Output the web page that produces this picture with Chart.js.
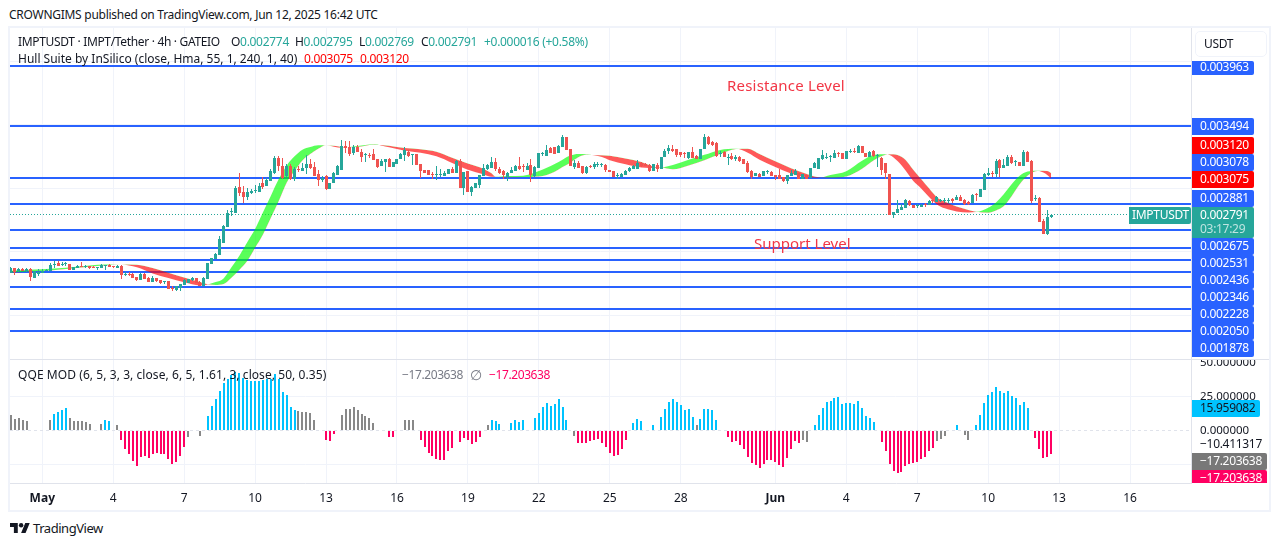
<!DOCTYPE html>
<html>
<head>
<meta charset="utf-8">
<title>IMPTUSDT</title>
<script src="https://cdn.jsdelivr.net/npm/chart.js"></script>
<style>
    html, body { margin: 0; padding: 0; background: #fff; overflow: hidden; }
    body { width: 1281px; height: 546px; position: relative; font-family: "Noto Sans", sans-serif; font-size: 12px; color: #131722; }
    canvas { position: absolute; left: 10px; }
    .txt { position: absolute; white-space: nowrap; line-height: 16px; }
    .rule { position: absolute; }
    .num { letter-spacing: -0.3px; }
    .up { color: #26a69a; }
    .hull { color: #ff0000; }
    .pink { color: #ff0062; }
    .grey { color: #787b86; }
</style>
</head>
<body>
<div class="rule" style="left:8px;top:26px;width:1263px;height:486px;border:2px solid #f0f3fa;box-sizing:border-box"></div>
<canvas id="priceChart" width="1259" height="331" style="top:28px"></canvas>
<canvas id="qqeChart" width="1259" height="151" style="top:360px"></canvas>
<div class="rule" style="left:10px;top:359px;width:1259px;height:1px;background:#e0e3eb"></div>

<div class="txt" style="left:9px;top:7px;letter-spacing:-0.27px">CROWNGIMS published on TradingView.com, Jun 12, 2025 16:42 UTC</div>
<div class="txt" style="left:18px;top:34px;letter-spacing:-0.33px">IMPTUSDT · IMPT/Tether · 4h · GATEIO</div>
<div class="txt num" style="left:231px;top:34px">O<span class="up">0.002774</span></div>
<div class="txt num" style="left:295px;top:34px">H<span class="up">0.002795</span></div>
<div class="txt num" style="left:359px;top:34px">L<span class="up">0.002769</span></div>
<div class="txt num" style="left:421px;top:34px">C<span class="up">0.002791</span></div>
<div class="txt num up" style="left:484px;top:34px">+0.000016 (+0.58%)</div>
<div class="txt" style="left:18px;top:51px">Hull Suite by InSilico (close, Hma, 55, 1, 240, 1, 40)</div>
<div class="txt hull num" style="left:304px;top:51px">0.003075</div>
<div class="txt hull num" style="left:360px;top:51px">0.003120</div>
<div class="txt" style="left:1195px;top:31px;width:72px;height:26px;border:1px solid #f0f3fa;border-radius:5px;box-sizing:border-box;line-height:24px;padding-left:8px;letter-spacing:-0.3px">USDT</div>
<div class="txt" style="left:727px;top:75px;font-size:15px;line-height:20px;letter-spacing:0.2px;color:#f23645">Resistance Level</div>
<div class="txt" style="left:754px;top:233px;font-size:15px;line-height:20px;color:#f23645">Support Level</div>
<div class="txt" style="left:18px;top:367px;letter-spacing:0.07px">QQE MOD (6, 5, 3, 3, close, 6, 5, 1.61, 3, close, 50, 0.35)</div>
<div class="txt grey" style="left:402px;top:367px;letter-spacing:-0.4px">−17.203638</div>
<div class="txt grey" style="left:470px;top:367px;font-size:14px">∅</div>
<div class="txt pink" style="left:489px;top:367px;letter-spacing:-0.4px">−17.203638</div>
<svg style="position:absolute;left:10px;top:523px" width="20" height="10" viewBox="0 4 36 18"><path d="M14 22H7V11H0V4h14v18zM28 22h-8l7.5-18h8L28 22z" fill="#131722"/><circle cx="20" cy="8" r="4" fill="#131722"/></svg>
<div class="txt" style="left:33px;top:520px;font-size:13px;letter-spacing:-0.45px">TradingView</div>

<script>
// prices are in millionths of USDT, one entry per 4h bar
const opens = [
    2337, 2371, 2350, 2366, 2347, 2368, 2298, 2324, 2331, 2352,
    2352, 2400, 2413, 2400, 2402, 2405, 2358, 2376, 2389, 2384,
    2389, 2381, 2373, 2376, 2392, 2400, 2389, 2376, 2392, 2321,
    2326, 2329, 2303, 2282, 2329, 2298, 2266, 2292, 2276, 2263,
    2268, 2216, 2200, 2216, 2237, 2253, 2276, 2292, 2266, 2234,
    2287, 2405, 2442, 2478, 2573, 2699, 2811, 2806, 3008, 2969,
    2929, 2966, 2982, 2971, 3040, 3019, 3061, 3118, 3239, 3176,
    3097, 3176, 3076, 3150, 3134, 3158, 3192, 3168, 3113, 3066,
    3097, 2995, 3045, 3105, 3145, 3333, 3323, 3276, 3323, 3289,
    3260, 3263, 3270, 3228, 3176, 3210, 3234, 3165, 3192, 3228,
    3265, 3286, 3263, 3268, 3189, 3145, 3145, 3110, 3108, 3108,
    3097, 3113, 3152, 3118, 3218, 3000, 3134, 2971, 3003, 3026,
    3097, 3150, 3158, 3210, 3155, 3139, 3092, 3118, 3139, 3176,
    3173, 3142, 3184, 3097, 3163, 3270, 3257, 3318, 3323, 3276,
    3328, 3402, 3310, 3165, 3202, 3176, 3118, 3176, 3165, 3181,
    3181, 3181, 3145, 3134, 3100, 3092, 3108, 3139, 3150, 3152,
    3202, 3194, 3181, 3139, 3186, 3155, 3250, 3297, 3310, 3310,
    3284, 3281, 3236, 3289, 3257, 3231, 3310, 3402, 3362, 3360,
    3273, 3284, 3242, 3255, 3234, 3247, 3228, 3200, 3139, 3097,
    3116, 3100, 3126, 3131, 3105, 3102, 3087, 3055, 3100, 3102,
    3118, 3076, 3105, 3079, 3158, 3150, 3231, 3242, 3250, 3242,
    3276, 3276, 3228, 3284, 3297, 3276, 3333, 3278, 3250, 3291,
    3252, 3242, 3197, 3113, 2788, 2809, 2833, 2848, 2900, 2866,
    2858, 2851, 2874, 2866, 2903, 2895, 2903, 2900, 2903, 2914,
    2908, 2935, 2908, 2890, 2882, 2950, 2932, 2987, 3108, 3118,
    3113, 3223, 3160, 3176, 3244, 3208, 3205, 3176, 3284, 3215,
    2914, 2924, 2743, 2638, 2774
];
const highs = [
    2379, 2373, 2376, 2371, 2373, 2371, 2347, 2366, 2366, 2363,
    2410, 2431, 2431, 2418, 2421, 2408, 2384, 2397, 2421, 2397,
    2392, 2386, 2379, 2402, 2397, 2405, 2392, 2400, 2395, 2342,
    2342, 2337, 2305, 2331, 2331, 2300, 2310, 2295, 2279, 2271,
    2271, 2232, 2232, 2248, 2289, 2287, 2305, 2295, 2268, 2305,
    2413, 2452, 2491, 2623, 2712, 2830, 2843, 3019, 3118, 3019,
    3003, 2992, 3024, 3040, 3087, 3079, 3150, 3255, 3255, 3242,
    3189, 3189, 3171, 3176, 3202, 3262, 3228, 3210, 3145, 3097,
    3102, 3045, 3131, 3184, 3381, 3375, 3373, 3339, 3341, 3310,
    3276, 3276, 3307, 3231, 3228, 3228, 3236, 3205, 3234, 3281,
    3323, 3302, 3270, 3273, 3192, 3147, 3147, 3126, 3176, 3150,
    3139, 3155, 3171, 3223, 3231, 3131, 3139, 3016, 3040, 3108,
    3189, 3192, 3247, 3236, 3165, 3142, 3126, 3165, 3184, 3250,
    3192, 3197, 3231, 3173, 3276, 3289, 3341, 3323, 3325, 3344,
    3423, 3404, 3312, 3223, 3218, 3178, 3178, 3184, 3205, 3208,
    3197, 3192, 3147, 3136, 3118, 3118, 3142, 3171, 3181, 3223,
    3210, 3197, 3192, 3189, 3197, 3250, 3307, 3339, 3341, 3312,
    3289, 3284, 3284, 3328, 3260, 3310, 3425, 3415, 3375, 3362,
    3294, 3297, 3270, 3276, 3265, 3257, 3231, 3213, 3142, 3118,
    3118, 3134, 3147, 3134, 3108, 3150, 3089, 3105, 3145, 3155,
    3121, 3113, 3108, 3158, 3210, 3242, 3302, 3276, 3265, 3302,
    3284, 3278, 3297, 3307, 3315, 3341, 3336, 3281, 3297, 3302,
    3268, 3244, 3200, 3116, 2817, 2908, 2877, 2916, 2911, 2869,
    2877, 2877, 2882, 2908, 2908, 2942, 2919, 2921, 2921, 2927,
    2945, 2945, 2916, 2900, 2953, 2961, 2998, 3124, 3158, 3134,
    3231, 3231, 3234, 3260, 3260, 3223, 3208, 3302, 3297, 3223,
    2950, 2929, 2756, 2830, 2795
];
const lows = [
    2331, 2316, 2345, 2347, 2345, 2271, 2298, 2310, 2331, 2350,
    2352, 2373, 2392, 2389, 2392, 2360, 2355, 2376, 2381, 2376,
    2366, 2373, 2358, 2376, 2358, 2384, 2373, 2376, 2287, 2310,
    2310, 2298, 2269, 2279, 2289, 2266, 2266, 2261, 2250, 2245,
    2211, 2195, 2195, 2192, 2237, 2253, 2268, 2258, 2234, 2234,
    2287, 2405, 2442, 2478, 2573, 2693, 2783, 2806, 2940, 2887,
    2908, 2956, 2966, 2971, 2998, 3019, 3061, 3110, 3139, 3071,
    3087, 3066, 3061, 3129, 3134, 3113, 3155, 3097, 3021, 3053,
    2987, 2995, 3045, 3105, 3145, 3281, 3257, 3262, 3284, 3205,
    3205, 3242, 3223, 3163, 3176, 3129, 3165, 3165, 3192, 3228,
    3218, 3244, 3181, 3184, 3079, 3123, 3102, 3076, 3066, 3087,
    3097, 3113, 3118, 3118, 3003, 2950, 2971, 2940, 3003, 3000,
    3097, 3145, 3158, 3139, 3113, 3076, 3061, 3118, 3139, 3145,
    3131, 3142, 3050, 3092, 3163, 3255, 3257, 3281, 3270, 3276,
    3328, 3302, 3176, 3155, 3160, 3113, 3110, 3158, 3155, 3165,
    3165, 3131, 3126, 3087, 3071, 3092, 3108, 3131, 3150, 3152,
    3171, 3176, 3131, 3139, 3126, 3155, 3250, 3270, 3284, 3244,
    3244, 3236, 3231, 3242, 3231, 3231, 3310, 3341, 3333, 3244,
    3244, 3244, 3187, 3223, 3218, 3205, 3192, 3124, 3076, 3097,
    3089, 3100, 3110, 3097, 3066, 3076, 3050, 3034, 3095, 3102,
    3076, 3076, 3076, 3079, 3158, 3150, 3223, 3231, 3210, 3242,
    3244, 3228, 3228, 3276, 3276, 3276, 3276, 3244, 3250, 3244,
    3171, 3102, 3071, 2790, 2767, 2806, 2833, 2848, 2858, 2848,
    2843, 2851, 2856, 2866, 2887, 2895, 2895, 2885, 2882, 2887,
    2908, 2903, 2872, 2866, 2882, 2900, 2932, 2987, 3100, 3087,
    3087, 3087, 3160, 3176, 3192, 3176, 3173, 3176, 3210, 2887,
    2898, 2735, 2638, 2633, 2769
];
const closes = [
    2373, 2345, 2366, 2350, 2363, 2303, 2347, 2339, 2352, 2358,
    2400, 2405, 2392, 2405, 2408, 2360, 2381, 2392, 2381, 2389,
    2373, 2376, 2376, 2400, 2395, 2384, 2381, 2392, 2318, 2326,
    2321, 2298, 2279, 2329, 2289, 2266, 2298, 2271, 2255, 2268,
    2211, 2211, 2232, 2248, 2279, 2284, 2292, 2258, 2234, 2295,
    2410, 2450, 2484, 2602, 2704, 2804, 2817, 3003, 2961, 2929,
    2969, 2982, 2990, 3019, 3011, 3066, 3139, 3239, 3176, 3084,
    3176, 3071, 3150, 3145, 3160, 3192, 3160, 3097, 3066, 3082,
    2992, 3045, 3118, 3176, 3333, 3315, 3270, 3328, 3284, 3250,
    3265, 3257, 3223, 3171, 3218, 3228, 3171, 3205, 3234, 3270,
    3302, 3255, 3268, 3184, 3139, 3123, 3102, 3105, 3113, 3113,
    3118, 3150, 3118, 3218, 3005, 3129, 2971, 3013, 3040, 3105,
    3158, 3181, 3210, 3150, 3123, 3105, 3123, 3145, 3176, 3152,
    3168, 3176, 3105, 3171, 3276, 3276, 3302, 3281, 3270, 3333,
    3402, 3302, 3176, 3197, 3160, 3123, 3165, 3168, 3189, 3186,
    3186, 3145, 3126, 3087, 3105, 3116, 3139, 3163, 3178, 3197,
    3178, 3176, 3139, 3189, 3155, 3250, 3297, 3315, 3297, 3262,
    3262, 3270, 3284, 3242, 3231, 3310, 3402, 3349, 3341, 3257,
    3278, 3244, 3247, 3234, 3250, 3215, 3192, 3129, 3092, 3118,
    3089, 3134, 3131, 3097, 3087, 3076, 3055, 3105, 3118, 3139,
    3076, 3113, 3076, 3158, 3197, 3242, 3262, 3250, 3257, 3276,
    3270, 3228, 3297, 3297, 3284, 3333, 3276, 3250, 3289, 3257,
    3257, 3145, 3118, 2790, 2814, 2835, 2853, 2908, 2866, 2848,
    2864, 2872, 2869, 2900, 2898, 2932, 2908, 2911, 2908, 2900,
    2932, 2903, 2879, 2877, 2948, 2945, 2995, 3113, 3118, 3110,
    3215, 3160, 3181, 3244, 3200, 3213, 3173, 3284, 3210, 2903,
    2919, 2735, 2644, 2772, 2791
];

// Hull Suite band, sampled along the bars
const hullBars = [0, 4, 8, 12, 16, 20, 24, 28, 32, 36, 40, 44, 48, 50, 52, 54, 56, 58, 60, 62, 64, 66, 68, 70, 72, 74, 76, 78, 80, 82, 84, 85, 88, 92, 96, 100, 104, 108, 112, 116, 120, 122, 123, 126, 130, 134, 136, 138, 140, 142, 144, 146, 150, 152, 156, 160, 164, 165, 168, 172, 176, 180, 184, 187, 190, 194, 198, 202, 205, 208, 212, 216, 219, 222, 223, 225, 227, 229, 231, 233, 235, 237, 240, 243, 245, 248, 250, 252, 254, 256, 258, 260, 261, 263, 264];
const hullFast = [2352, 2358, 2363, 2371, 2381, 2394, 2402, 2402, 2379, 2331, 2295, 2261, 2236, 2244, 2263, 2292, 2379, 2471, 2576, 2680, 2812, 2943, 3074, 3179, 3252, 3305, 3326, 3340, 3340, 3328, 3320, 3322, 3333, 3347, 3323, 3297, 3280, 3252, 3200, 3147, 3110, 3091, 3090, 3097, 3100, 3137, 3163, 3192, 3226, 3258, 3270, 3268, 3247, 3222, 3190, 3165, 3160, 3162, 3184, 3225, 3264, 3303, 3312, 3281, 3226, 3168, 3118, 3087, 3084, 3106, 3135, 3218, 3263, 3268, 3263, 3215, 3142, 3058, 3000, 2932, 2874, 2843, 2819, 2811, 2814, 2848, 2890, 2956, 3035, 3100, 3132, 3139, 3136, 3105, 3075];
const hullSlow = [2337, 2345, 2350, 2360, 2371, 2384, 2394, 2401, 2399, 2373, 2337, 2298, 2264, 2246, 2240, 2247, 2297, 2358, 2428, 2533, 2638, 2769, 2900, 3045, 3137, 3220, 3270, 3311, 3340, 3336, 3326, 3323, 3326, 3344, 3336, 3317, 3308, 3289, 3242, 3195, 3153, 3119, 3092, 3087, 3090, 3094, 3105, 3131, 3168, 3202, 3245, 3265, 3260, 3256, 3235, 3208, 3165, 3164, 3150, 3180, 3221, 3270, 3310, 3312, 3271, 3213, 3158, 3113, 3087, 3084, 3094, 3155, 3222, 3265, 3268, 3263, 3226, 3147, 3074, 3001, 2930, 2896, 2857, 2830, 2817, 2809, 2827, 2861, 2940, 3032, 3099, 3134, 3139, 3137, 3120];

// horizontal support and resistance levels
const levels = [3963, 3494, 3078, 2881, 2675, 2531, 2436, 2346, 2228, 2050, 1878];
const lastClose = 2791;
const priceGrid = [2000, 2500, 3000, 3500, 4000];

// values printed in the tags on the price scale, top to bottom
const tagPrices = [3963, 3494, 3120, 3078, 3075, 2881, 2791, 2675, 2531, 2436, 2346, 2228, 2050, 1878];

// QQE MOD histogram, one entry per bar; tone c = cyan, g = grey, p = pink
const qqeValues = [
    11.3, 8.6, 9.1, 7.4, 6.9, null, null, null, null, null,
    7.6, 12.3, 13.7, 14.7, 16.4, 9.1, 6.6, 6.6, 6.6, 6.4,
    4.4, null, null, 4.4, 7.8, 6.6, null, 3.7, -7.4, -13.7,
    -17.6, -22.5, -26.2, -19.6, -18.6, -20.3, -17.2, -16.7, -17.2, -17.6,
    -20.8, -24.7, -23.3, -18.9, -12.3, -4.9, null, null, -4.2, null,
    10.5, 18.1, 23, 28.9, 35, 37.5, 40.4, 42.9, 42.1, 38.7,
    36.8, 36.3, 36.3, 36.3, 36.8, 38, 38, 41.7, 38, 28.2,
    25.7, 17.2, 15.2, 14, 13.5, 13.5, 13, 7.4, null, null,
    -7.4, -8.1, -2.9, null, 11.3, 15.4, 15.4, 17.2, 15.2, 11.8,
    10.5, 8.8, 5.4, null, null, null, -4.9, -4.9, null, null,
    7.6, 7.6, 7.6, null, -7.1, -12.3, -16.4, -19.1, -20.8, -21.8,
    -21.8, -15.2, -13, null, -8.6, -5.6, -7.4, -9.8, -8.8, -4.9,
    null, 3.9, 7.4, 6.9, 4.4, null, null, 5.4, 7.6, 6.4,
    7.6, null, null, 9.1, 12.7, 17.2, 20.1, 17.9, 19.4, 22.8,
    17.2, 7.8, null, -4.2, -9.3, -9.3, -9.1, -7.8, -7.4, -6.6,
    -9.3, -12.3, -16.4, -18.9, -17.9, -13.5, -7.1, null, 5.1, 8.3,
    6.6, null, null, 3.7, null, 9.8, 15.4, 20.8, 22.8, 20.8,
    18.4, 14.7, 15.4, 9.8, 3.9, 8.1, 15.4, 15.4, 14.7, 7.4,
    null, null, -4.9, -8.6, -7.8, -10.8, -13.7, -19.6, -23.8, -25.2,
    -27.4, -24.5, -21.6, -22, -23, -25.2, -27, -20.3, -13.7, -8.1,
    -9.3, -6.9, -8.3, null, 3.9, 11.3, 16.4, 20.8, 21.6, 23.8,
    24.5, 19.1, 20.1, 20.1, 19.1, 21.6, 16.4, 10.5, 9.1, 6.1,
    null, -8.6, -15.2, -24.5, -29.9, -31.4, -30.6, -26, -24.5, -23.8,
    -23.3, -20.8, -19.6, -15.2, -13, -7.8, -6.4, -4.2, null, null,
    3.9, null, -3.4, -7.1, null, 3.9, 11.3, 19.8, 25.7, 28.2,
    31.9, 28.9, 27.4, 28.9, 25, 23.8, 18.6, 20.8, 16.4, null,
    -5.6, -13.7, -20.3, -19.6, -17.203638
];
const qqeTones = (
    'ggggg.....gccccggggg' + 'g..gcc.gpp' + 'pppppppppp' + 'pppppg..g.' +
    'cccccccccc' + 'cccccccccc' + 'cccggggg..' + 'ppp.gggggg' + 'ggg...pp..' +
    'ggg.pppppp' + 'ppp.pppppp' + '.gccc..ccc' + 'c..ccccccc' + 'cc.gpppppp' +
    'ppppppp.cc' + 'c..c.ccccc' + 'ccccgccccc' + '..pppppppp' + 'pppppppppp' +
    'pgg.cccccc' + 'cccccccccc' + '.ppppppppp' + 'pppppggg..' + 'c.gg.ccccc' +
    'ccccccccc.' + 'ppppp'
);
const qqeTicks = [-25, 0, 25, 50];

// time axis
const dayBars = [8, 26, 44, 62, 80, 98, 116, 134, 152, 170, 194, 212, 230, 248, 266, 284];
const dayLabels = ['May', '4', '7', '10', '13', '16', '19', '22', '25', '28', 'Jun', '4', '7', '10', '13', '16'];

const UP = '#26a69a', DOWN = '#ef5350', BLUE = '#2962ff', RED = '#ff0000';
const GRID = '#f0f3fa', EDGE = '#e0e3eb';
const xMin = -0.196, xMax = 299.47;

Chart.defaults.font.family = '"Noto Sans", sans-serif';
Chart.defaults.font.size = 12;
Chart.defaults.color = '#131722';

const candleColors = closes.map((c, i) => (c >= opens[i] ? UP : DOWN));
const toneColors = { c: '#00c3ff', g: '#888888', p: '#ff0062' };

// keep the thin bars and the flat level lines on whole pixels so they stay sharp
const snapMarks = {
    id: 'snapMarks',
    afterDatasetsUpdate(chart) {
        chart.getSortedVisibleDatasetMetas().forEach(meta => {
            const ds = chart.data.datasets[meta.index];
            if (meta.type === 'line') {
                if (meta.data.length !== 2) return;
                meta.data.forEach(pt => {
                    pt.y = ds.borderWidth % 2 ? Math.floor(pt.y) + 0.5 : Math.round(pt.y);
                });
                return;
            }
            const odd = ds.barThickness % 2 === 1;
            meta.data.forEach(bar => {
                bar.x = odd ? Math.floor(bar.x) + 0.5 : Math.round(bar.x);
                const top = Math.round(Math.min(bar.y, bar.base));
                let bottom = Math.round(Math.max(bar.y, bar.base));
                if (bottom === top) bottom++;
                bar.y = top;
                bar.base = bottom;
            });
        });
    }
};

// coloured value tags over the right hand scale
function scaleTags(tags, plain) {
    return {
        id: 'scaleTags',
        afterDraw(chart) {
            const ctx = chart.ctx;
            ctx.save();
            ctx.beginPath();
            ctx.rect(0, 0, chart.width, chart.chartArea.bottom);
            ctx.clip();
            ctx.textBaseline = 'middle';
            ctx.font = '12px "Noto Sans", sans-serif';
            ctx.letterSpacing = '-0.3px';
            tags.forEach(t => {
                ctx.fillStyle = t.bg;
                ctx.beginPath();
                ctx.roundRect(t.left, t.top, t.width, t.height, [0, 2, 2, 0]);
                ctx.fill();
                t.lines.forEach((line, n) => {
                    ctx.fillStyle = line.color;
                    ctx.fillText(line.text, t.left + (t.inset || 8), t.top + 8.5 + n * 14 + (t.nudge || 0));
                });
            });
            plain.forEach(p => {
                ctx.fillStyle = p.color;
                ctx.fillText(p.text, p.left, p.y);
            });
            ctx.restore();
        }
    };
}

const priceText = v => (v / 1e6).toFixed(6);
const tagTops = [118, 137, 154, 171, 190, 207, 238, 255, 272, 289, 306, 323, 340];
const priceTags = tagPrices.map((p, n) => {
    if (n === 0) {
        return { bg: BLUE, left: 1182, width: 62, top: 33, height: 14, nudge: -2, lines: [{ text: priceText(p), color: '#fff' }] };
    }
    const hull = p === 3120 || p === 3075;
    const last = p === lastClose;
    const lines = [{ text: priceText(p), color: '#fff' }];
    if (last) lines.push({ text: '03:17:29', color: 'rgba(255,255,255,0.7)' });
    return {
        bg: last ? UP : hull ? RED : BLUE,
        left: 1182, width: 62, top: tagTops[n - 1] - 28, height: last ? 31 : 17, lines
    };
});
priceTags.push({ bg: UP, left: 1119, width: 62, top: 179, height: 17, inset: 3, lines: [{ text: 'IMPTUSDT', color: '#fff' }] });

const levelData = levels.map(v => ({
    type: 'line',
    data: [{ x: xMin, y: v }, { x: xMax, y: v }],
    borderColor: BLUE,
    borderWidth: 2,
    pointRadius: 0,
    order: 6
}));

// no reserved room for tick labels, the plot area fills the canvas exactly
function fitAxis(axis, size) {
    if (axis.isHorizontal()) axis.height = size;
    else axis.width = size;
    axis.paddingTop = axis.paddingBottom = axis.paddingLeft = axis.paddingRight = 0;
}

new Chart(document.getElementById('priceChart'), {
    type: 'bar',
    data: {
        datasets: [
            {
                data: closes.map((c, i) => ({ x: i, y: [opens[i], c] })),
                backgroundColor: candleColors,
                barThickness: 3,
                inflateAmount: 0,
                grouped: false,
                minBarLength: 1,
                order: 1
            },
            {
                data: highs.map((h, i) => ({ x: i, y: [lows[i], h] })),
                backgroundColor: candleColors,
                barThickness: 1,
                inflateAmount: 0,
                grouped: false,
                order: 2
            },
            {
                type: 'line',
                data: hullBars.map((b, n) => ({ x: b, y: hullFast[n] })),
                borderWidth: 0,
                pointRadius: 0,
                cubicInterpolationMode: 'monotone',
                fill: { target: '+1', above: 'rgba(0,255,0,0.65)', below: 'rgba(255,0,0,0.65)' },
                order: 3
            },
            {
                type: 'line',
                data: hullBars.map((b, n) => ({ x: b, y: hullSlow[n] })),
                borderWidth: 0,
                pointRadius: 0,
                cubicInterpolationMode: 'monotone',
                order: 4
            },
            {
                type: 'line',
                data: [{ x: xMin, y: lastClose }, { x: xMax, y: lastClose }],
                borderColor: UP,
                borderWidth: 1,
                borderDash: [1, 2],
                pointRadius: 0,
                order: 5
            },
            ...levelData
        ]
    },
    options: {
        responsive: false,
        animation: false,
        devicePixelRatio: 1,
        layout: { padding: 0 },
        plugins: {
            legend: { display: false },
            tooltip: { enabled: false }
        },
        scales: {
            x: {
                type: 'linear',
                offset: false,
                min: xMin,
                max: xMax,
                afterBuildTicks: axis => { axis.ticks = dayBars.map(value => ({ value })); },
                afterFit: axis => fitAxis(axis, 0),
                grid: { color: GRID, drawTicks: false, offset: false },
                border: { display: false },
                ticks: { display: false }
            },
            y: {
                position: 'right',
                min: 1657.7,
                max: 4262,
                afterBuildTicks: axis => { axis.ticks = priceGrid.map(value => ({ value })); },
                afterFit: axis => fitAxis(axis, 78),
                grid: { color: GRID, drawTicks: false },
                border: { color: EDGE },
                ticks: { display: false }
            }
        }
    },
    plugins: [snapMarks, scaleTags(priceTags, [])]
});

const qqeTags = [
    { bg: '#00c3ff', left: 1182, width: 68, top: 40, height: 17, lines: [{ text: '15.959082', color: '#131722' }] },
    { bg: '#787878', left: 1182, width: 75, top: 93, height: 17, lines: [{ text: '−17.203638', color: '#fff' }] },
    { bg: '#ff0062', left: 1182, width: 75, top: 110, height: 17, lines: [{ text: '−17.203638', color: '#fff' }] }
];
const qqePlain = [{ text: '−10.411317', left: 1190, y: 84.5, color: '#131722' }];

new Chart(document.getElementById('qqeChart'), {
    type: 'bar',
    data: {
        datasets: [
            {
                data: qqeValues.map((v, i) => (v === null ? null : { x: i, y: v })).filter(d => d),
                backgroundColor: qqeValues.map((v, i) => (v === null ? null : toneColors[qqeTones[i]])).filter(c => c),
                barThickness: 2,
                inflateAmount: 0,
                grouped: false,
                order: 1
            },
            {
                type: 'line',
                data: [{ x: xMin, y: 0 }, { x: xMax, y: 0 }],
                borderColor: EDGE,
                borderWidth: 1,
                borderDash: [3, 3],
                pointRadius: 0,
                order: 2
            }
        ]
    },
    options: {
        responsive: false,
        animation: false,
        devicePixelRatio: 1,
        layout: { padding: 0 },
        plugins: {
            legend: { display: false },
            tooltip: { enabled: false }
        },
        scales: {
            x: {
                type: 'linear',
                offset: false,
                min: xMin,
                max: xMax,
                afterBuildTicks: axis => { axis.ticks = dayBars.map(value => ({ value })); },
                afterFit: axis => fitAxis(axis, 28),
                grid: { color: GRID, drawTicks: false, offset: false },
                border: { color: EDGE },
                ticks: {
                    autoSkip: false,
                    maxRotation: 0,
                    padding: 8,
                    callback: value => dayLabels[dayBars.indexOf(value)],
                    font: ctx => ({ weight: ctx.index === 0 || ctx.index === 10 ? 'bold' : 'normal' })
                }
            },
            y: {
                position: 'right',
                min: -38.75,
                max: 51.7,
                afterBuildTicks: axis => { axis.ticks = qqeTicks.map(value => ({ value })); },
                afterFit: axis => fitAxis(axis, 78),
                grid: {
                    color: ctx => (Math.abs(ctx.tick.value) === 25 ? GRID : 'transparent'),
                    drawTicks: false
                },
                border: { color: EDGE },
                ticks: {
                    padding: 9,
                    font: { size: 11.5 },
                    callback: value => value.toFixed(6)
                }
            }
        }
    },
    plugins: [snapMarks, scaleTags(qqeTags, qqePlain)]
});
</script>
</body>
</html>
